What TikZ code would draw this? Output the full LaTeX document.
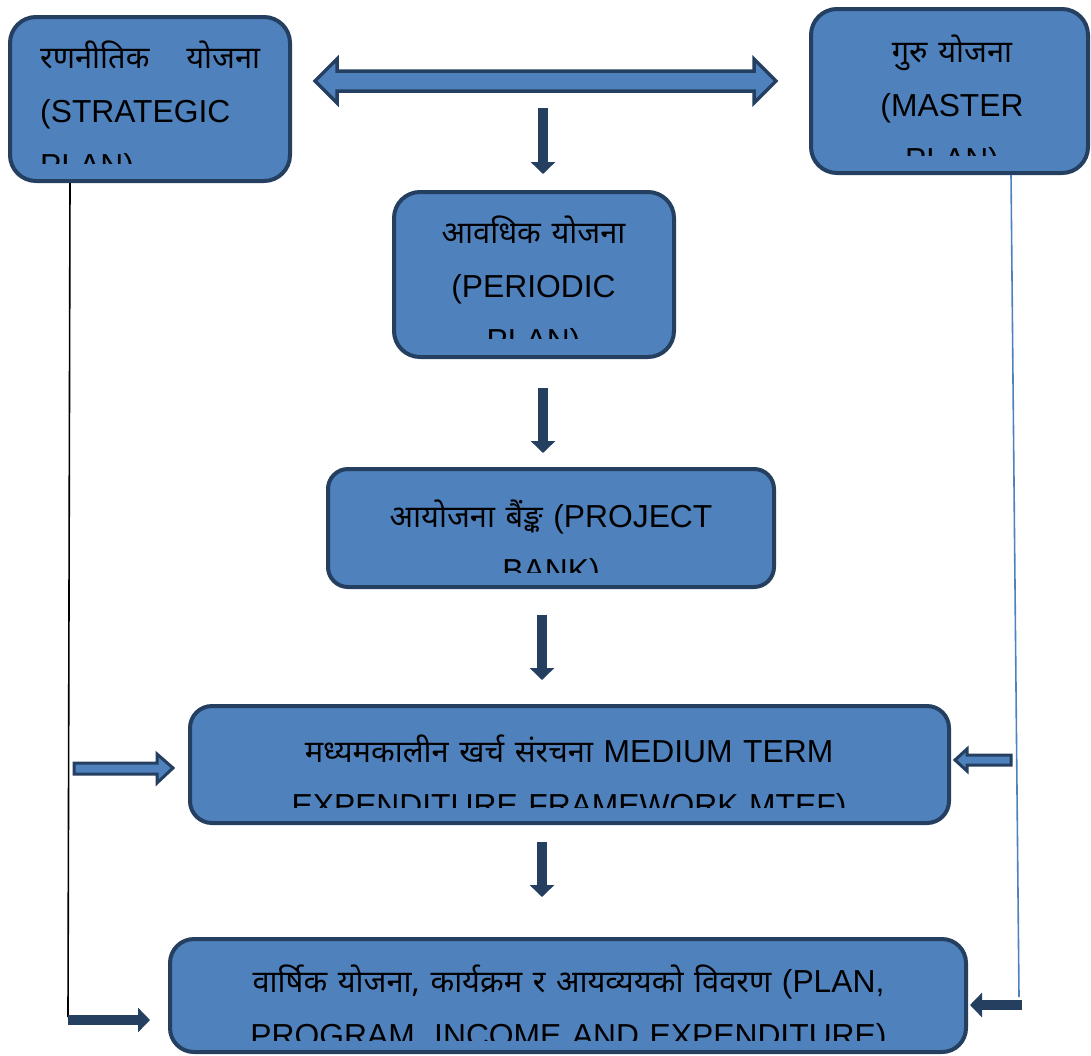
\documentclass[tikz,border=0pt]{standalone}
\usepackage{fontspec}
\setmainfont{Liberation Sans}
\newfontfamily\devfont[Script=Devanagari, Scale=0.97]{Noto Sans}
\usetikzlibrary{arrows.meta}
\definecolor{planblue}{HTML}{4F81BD}
\definecolor{planedge}{HTML}{243F60}

\begin{document}
\begin{tikzpicture}[x=1pt, y=-1pt,
    planbox/.style={rectangle, draw=planedge, fill=planblue, line width=4pt, rounded corners=26pt},
    boxtext/.style={inner sep=0pt, font=\fontsize{31.8}{54}\selectfont, align=center, anchor=base},
    boldarrow/.style={draw=planedge, line width=10pt, -{Triangle[width=24pt,length=12pt]}},
    hollowarrow/.style={draw=planedge, fill=planblue, line width=3.5pt, line join=miter},
    feedline/.style={line width=1.6pt}
   ]
   \useasboundingbox (0,0) rectangle (1091,1055);

   \node[planbox, minimum width=280pt, minimum height=164pt] (strategic) at (150,99) {};
   \node[planbox, minimum width=277pt, minimum height=164pt] (master) at (949.5,91) {};
   \node[planbox, minimum width=280pt, minimum height=165pt] (periodic) at (534,274.5) {};
   \node[planbox, minimum width=446pt, minimum height=118pt, rounded corners=20pt] (project) at (551,528) {};
   \node[planbox, minimum width=759pt, minimum height=117pt, rounded corners=22pt] (mtef) at (569.5,764.5) {};
   \node[planbox, minimum width=796pt, minimum height=113pt, rounded corners=24pt] (final) at (568,995.5) {};

   % box texts, last line cut off by the box
   \begin{scope}
     \clip (strategic.north west) rectangle ([yshift=20pt]strategic.south east);
     \node[boxtext, align=left, text width=220pt, anchor=base west] (strategictext) at (40,68)
       {{\devfont रणनीतिक}\hfill{\devfont योजना}\\(STRATEGIC\\PLAN)};
   \end{scope}
   \begin{scope}
     \clip (master.north west) rectangle ([yshift=20pt]master.south east);
     \node[boxtext, text width=260pt] (mastertext) at (952,62)
       {{\devfont गुरु योजना}\\(MASTER\\PLAN)};
   \end{scope}
   \begin{scope}
     \clip (periodic.north west) rectangle ([yshift=21pt]periodic.south east);
     \node[boxtext, text width=260pt] (periodictext) at (533.5,243)
       {{\devfont आवधिक योजना}\\(PERIODIC\\PLAN)};
   \end{scope}
   \begin{scope}
     \clip (project.north west) rectangle ([yshift=17pt]project.south east);
     \node[boxtext, text width=420pt] (projecttext) at (551,527)
       {{\devfont आयोजना बैंङ्क} (PROJECT\\BANK)};
   \end{scope}
   \begin{scope}
     \clip (mtef.north west) rectangle ([yshift=18pt]mtef.south east);
     \node[boxtext, text width=720pt] (mteftext) at (569,762)
       {{\devfont मध्यमकालीन खर्च संरचना} MEDIUM TERM\\EXPENDITURE FRAMEWORK MTEF)};
   \end{scope}
   \begin{scope}
     \clip (final.north west) rectangle ([yshift=14pt]final.south east);
     \node[boxtext, text width=770pt] (finaltext) at (568.5,992)
       {{\devfont वार्षिक योजना, कार्यक्रम र आयव्ययको विवरण} (PLAN,\\PROGRAM, INCOME AND EXPENDITURE)};
   \end{scope}

   % double arrow between strategic and master plan
   \draw[hollowarrow] (315,81) -- (337,59) -- (337,71) -- (754,71) -- (754,59) -- (776,81)
     -- (754,103) -- (754,91) -- (337,91) -- (337,103) -- cycle;
   % side arrows into mtef
   \draw[hollowarrow, line width=3pt] (74,763) -- (157,763) -- (157,754) -- (173,768)
     -- (157,783) -- (157,774) -- (74,774) -- cycle;
   \draw[hollowarrow, line width=3pt] (1011,755) -- (967,755) -- (967,749) -- (955,760)
     -- (967,771) -- (967,765) -- (1011,765) -- cycle;

   \coordinate (linkmid) at (543,108);
   \coordinate (spine) at (542,0);
   \coordinate (leftfoot) at (68,1017);
   \coordinate (leftin) at (68,1020);
   \coordinate (rightfoot) at (1019,997);
   \coordinate (rightin) at (1022,1005);

   \draw[boldarrow, shorten >=16pt] (linkmid) -- (periodic.north -| linkmid);
   \draw[boldarrow, shorten <=29pt, shorten >=14pt] (periodic.south -| linkmid) -- (project.north -| linkmid);
   \draw[boldarrow, shorten <=26pt, shorten >=24pt] (project.south -| spine) -- (mtef.north -| spine);
   \draw[boldarrow, shorten <=17pt, shorten >=40pt] (mtef.south -| spine) -- (final.north -| spine);

   \draw[feedline] ([xshift=62pt]strategic.south west) -- (leftfoot);
   \draw[feedline, draw=planblue] ([xshift=202pt]master.south west) -- (rightfoot);
   \draw[boldarrow, shorten >=18pt] (leftin) -- (leftin -| final.west);
   \draw[boldarrow, shorten >=2pt] (rightin) -- (rightin -| final.east);
\end{tikzpicture}
\end{document}
